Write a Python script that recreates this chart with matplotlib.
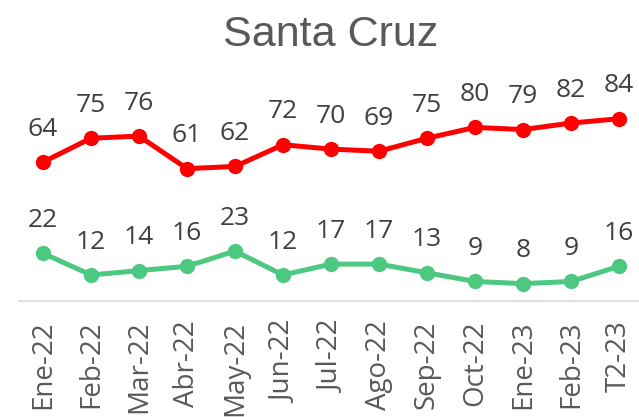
import matplotlib.pyplot as plt

meses = ['Ene-22', 'Feb-22', 'Mar-22', 'Abr-22', 'May-22', 'Jun-22', 'Jul-22',
         'Ago-22', 'Sep-22', 'Oct-22', 'Ene-23', 'Feb-23', 'T2-23']
rojo = [64, 75, 76, 61, 62, 72, 70, 69, 75, 80, 79, 82, 84]
verde = [22, 12, 14, 16, 23, 12, 17, 17, 13, 9, 8, 9, 16]

plt.rcParams['font.family'] = ['Open Sans', 'DejaVu Sans']

fig = plt.figure(figsize=(6.39, 4.17), dpi=100)
ax = fig.add_axes([19 / 639, 1 - 301 / 417, 624 / 639, 217 / 417])

x = list(range(len(meses)))
ax.plot(x, rojo, color='#FF0000', lw=3.6, marker='o', ms=10, solid_capstyle='round')
ax.plot(x, verde, color='#4CC881', lw=3.6, marker='o', ms=10, solid_capstyle='round')

# etiquetas de datos
for i in x:
    ax.annotate(str(rojo[i]), (i, rojo[i]), xytext=(0, 19), textcoords='offset points',
                ha='center', va='baseline', fontsize=19, color='#404040')
    ax.annotate(str(verde[i]), (i, verde[i]), xytext=(0, 19), textcoords='offset points',
                ha='center', va='baseline', fontsize=19, color='#404040')

ax.set_xlim(-0.5, len(meses) - 0.5)
ax.set_ylim(0, 100)
ax.set_xticks(x)
ax.set_xticklabels(meses, rotation=90, fontsize=20, color='#595959')
ax.tick_params(axis='x', length=0, pad=14)
ax.set_yticks([])
for s in ['top', 'left', 'right']:
    ax.spines[s].set_visible(False)
ax.spines['bottom'].set_color('#D9D9D9')
ax.spines['bottom'].set_linewidth(1.2)

fig.text(331 / 639, 1 - 46 / 417, 'Santa Cruz', ha='center', va='baseline',
         fontsize=31, color='#595959', family=['Liberation Sans', 'DejaVu Sans'])

fig.savefig('out.png', dpi=100)
